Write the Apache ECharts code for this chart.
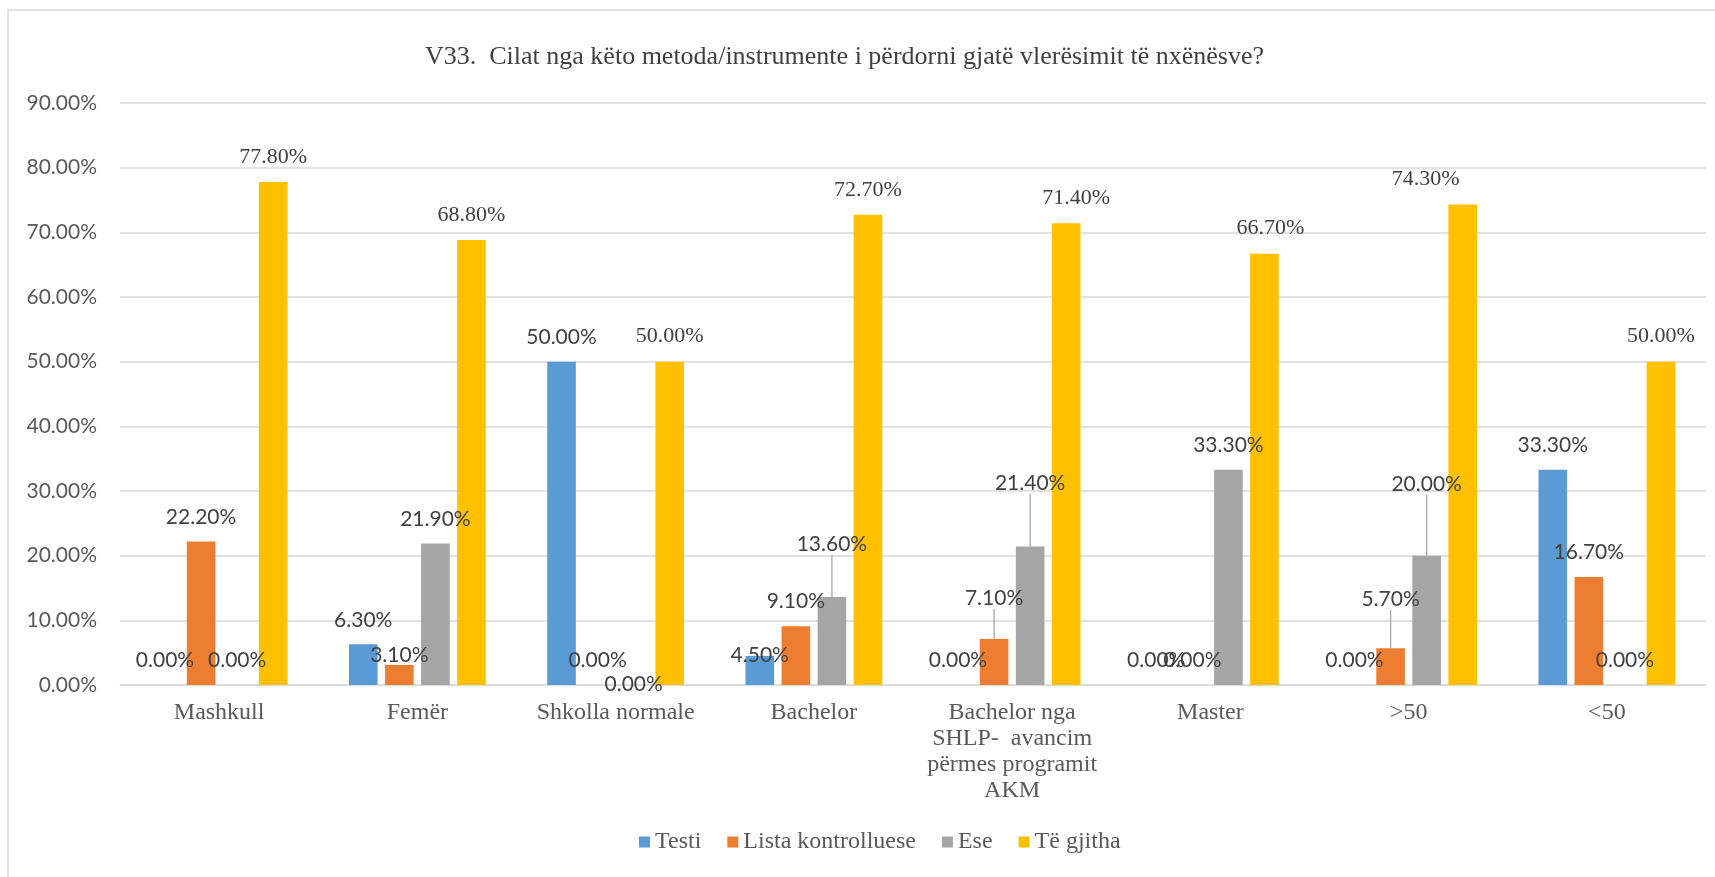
<!DOCTYPE html>
<html lang="sq">

<head>
    <meta charset="UTF-8">
    <title>V33</title>
    <style>
        html, body { margin: 0; padding: 0; background: #fff; }
        #main { width: 1715px; height: 877px; }
    </style>
</head>

<body>
    <div id="main"></div>
</body>
<script src="https://cdn.jsdelivr.net/npm/echarts@6/dist/echarts.min.js"></script>

<script>
    var categories = ['Mashkull', 'Femër', 'Shkolla normale', 'Bachelor',
        'Bachelor nga\nSHLP-  avancim\npërmes programit\nAKM', 'Master', '>50', '<50'];
    var seriesNames = ['Testi', 'Lista kontrolluese', 'Ese', 'Të gjitha'];
    var testi = [0, 6.3, 50, 4.5, 0, 0, 0, 33.3];
    var lista = [22.2, 3.1, 0, 9.1, 7.1, 0, 5.7, 16.7];
    var ese = [0, 21.9, 0, 13.6, 21.4, 33.3, 20.0, 0];
    var teGjitha = [77.8, 68.8, 50, 72.7, 71.4, 66.7, 74.3, 50];
    var yTicks = [0, 10, 20, 30, 40, 50, 60, 70, 80, 90];

    var colors = ['#5b9bd5', '#ed7d31', '#a5a5a5', '#ffc000'];
    var sansFont = 'Lato, "Liberation Sans", sans-serif';
    var serifFont = '"Liberation Serif", "Times New Roman", serif';

    // label nudges like in the excel file (seriesIndex -> dataIndex -> offset)
    var labelShift = {
        0: { 3: { dy: 24 } },
        1: { 1: { dy: 15 }, 4: { dy: -16, line: true }, 6: { dy: -24, line: true } },
        2: { 2: { dy: 24 }, 3: { dy: -28, line: true }, 4: { dy: -39, line: true }, 6: { dy: -47, line: true } },
        3: { 4: { dx: 10 }, 5: { dx: 6 }, 6: { dx: -37 } }
    };

    function makeSeries(idx, values) {
        var font = idx == 3 ? serifFont : sansFont;
        return {
            name: seriesNames[idx],
            type: 'bar',
            barGap: '26%',
            barCategoryGap: '31%',
            itemStyle: { color: colors[idx] },
            data: values.map(function (v, i) {
                var s = labelShift[idx][i];
                var item = { value: v };
                if (s && s.line) {
                    item.labelLine = { show: true, lineStyle: { color: '#a6a6a6', width: 1.3 } };
                }
                return item;
            }),
            label: {
                show: true,
                position: 'top',
                distance: 14,
                color: '#404040',
                fontFamily: font,
                fontSize: idx == 3 ? 22 : 21,
                formatter: function (p) {
                    return p.value.toFixed(2) + '%';
                }
            },
            labelLayout: function (p) {
                var s = labelShift[idx][p.dataIndex];
                if (!s) return {};
                return { dx: s.dx || 0, dy: s.dy || 0 };
            }
        };
    }

    var myChart = echarts.init(document.getElementById('main'));
    myChart.setOption({
        animation: false,
        title: {
            text: 'V33.  Cilat nga këto metoda/instrumente i përdorni gjatë vlerësimit të nxënësve?',
            left: 420,
            top: 39,
            textStyle: {
                fontFamily: serifFont,
                fontWeight: 'normal',
                fontSize: 26,
                color: '#404040'
            }
        },
        legend: {
            data: seriesNames,
            bottom: 18,
            left: 634,
            itemWidth: 11,
            itemHeight: 11,
            itemGap: 26,
            icon: 'rect',
            textStyle: {
                fontFamily: serifFont,
                fontSize: 24,
                color: '#595959'
            }
        },
        grid: {
            left: 120,
            right: 9,
            top: 103,
            bottom: 192
        },
        xAxis: {
            type: 'category',
            data: categories,
            axisLine: { lineStyle: { color: '#d9d9d9', width: 1.5 } },
            axisTick: { show: false },
            axisLabel: {
                margin: 15,
                interval: 0,
                fontFamily: serifFont,
                fontSize: 24,
                lineHeight: 26,
                color: '#595959',
                verticalAlign: 'top'
            }
        },
        yAxis: {
            type: 'value',
            min: yTicks[0],
            max: yTicks[yTicks.length - 1],
            interval: 10,
            axisLine: { show: false },
            axisTick: { show: false },
            splitLine: { lineStyle: { color: '#d9d9d9', width: 1.5 } },
            axisLabel: {
                margin: 23,
                fontFamily: sansFont,
                fontSize: 21,
                color: '#595959',
                formatter: function (v) {
                    return v.toFixed(2) + '%';
                }
            }
        },
        graphic: [{
            type: 'polyline',
            shape: { points: [[8, 877], [8, 10], [1715, 10]] },
            style: { fill: null, stroke: '#d9d9d9', lineWidth: 1.5 }
        }],
        series: [
            makeSeries(0, testi),
            makeSeries(1, lista),
            makeSeries(2, ese),
            makeSeries(3, teGjitha)
        ]
    });
</script>

</html>
